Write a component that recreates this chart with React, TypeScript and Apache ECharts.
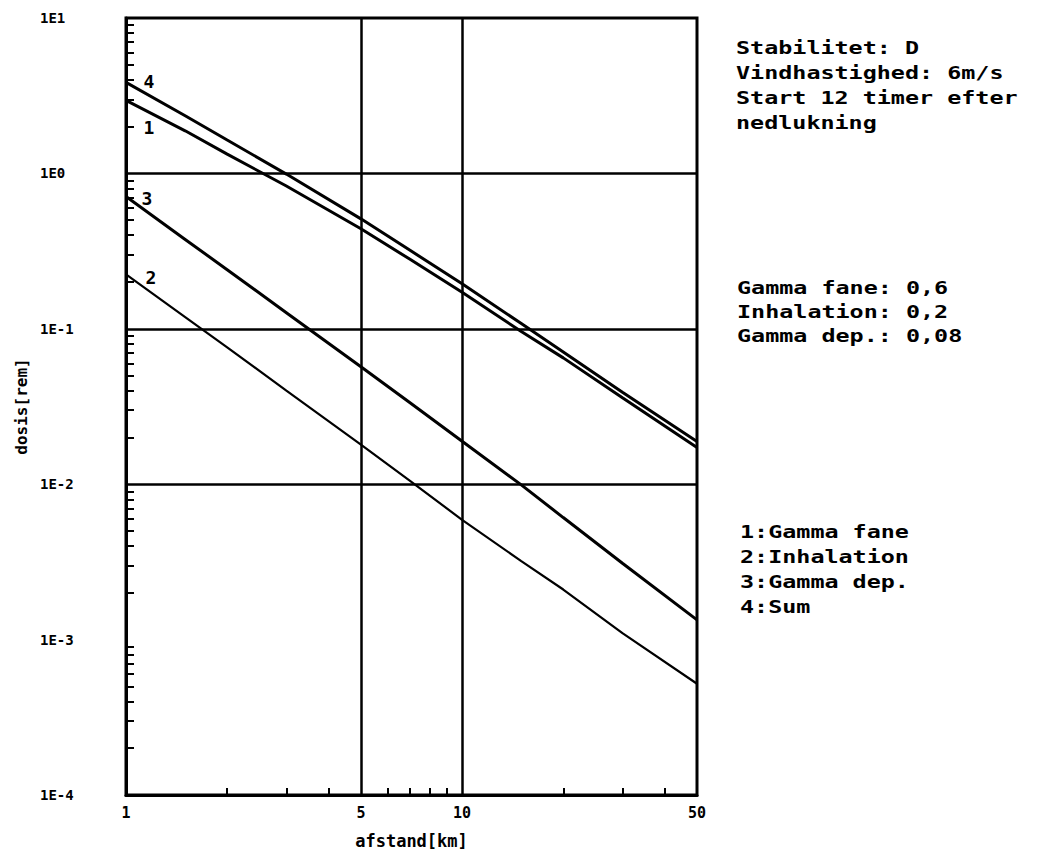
import React, { useEffect, useRef } from 'react';
import * as echarts from 'echarts';

// Distance from the source (km) and the dose of each contribution (rem)
const DISTANCE_KM = [1, 1.5, 2, 3, 5, 7, 10, 15, 20, 30, 50];
const GAMMA_FANE = [2.95, 1.88, 1.33, 0.83, 0.44, 0.28, 0.172, 0.096, 0.065, 0.036, 0.0172];
const INHALATION = [0.224, 0.119, 0.076, 0.04, 0.018, 0.0105, 0.0059, 0.0032, 0.0021, 0.0011, 0.00052];
const GAMMA_DEP = [0.71, 0.376, 0.24, 0.127, 0.057, 0.0334, 0.0189, 0.0099, 0.0061, 0.0031, 0.00134];
const SUM = [3.85, 2.35, 1.64, 0.99, 0.51, 0.32, 0.195, 0.108, 0.071, 0.039, 0.0188];

// Axis ticks
const X_LABELS = [1, 5, 10, 50];
const X_MINOR = [2, 3, 4, 6, 7, 8, 9, 20, 30, 40];
const X_GRID = [5, 10];
const Y_DECADES = [1e-4, 1e-3, 1e-2, 1e-1, 1, 10];
const Y_GRID = [1e-3, 1e-2, 1e-1, 1];
const MANTISSAS = [2, 3, 4, 5, 6, 7, 8, 9];

// Annotation blocks
const INFO_LINES = ['Stabilitet: D', 'Vindhastighed: 6m/s', 'Start 12 timer efter', 'nedlukning'];
const WEIGHT_LINES = ['Gamma fane: 0,6', 'Inhalation: 0,2', 'Gamma dep.: 0,08'];
const KEY_LINES = ['1:Gamma fane', '2:Inhalation', '3:Gamma dep.', '4:Sum'];

const MONO = '"DejaVu Sans Mono", "Liberation Mono", monospace';

export default function App() {
  const ref = useRef<HTMLDivElement>(null);

  useEffect(() => {
    if (!ref.current) return;
    const chart = echarts.init(ref.current, undefined, { renderer: 'svg' });

    const yMinor: number[] = [];
    Y_DECADES.slice(0, -1).forEach((d) => MANTISSAS.forEach((m) => yMinor.push(+(m * d).toPrecision(3))));

    const makeSeries = (
      name: string,
      values: number[],
      tag: string,
      offset: [number, number],
      width: number,
      extra: any = {}
    ) => ({
      type: 'line',
      name,
      data: DISTANCE_KM.map((d, i) =>
        i === 0
          ? {
              value: [d, values[i]],
              label: {
                show: true,
                formatter: tag,
                position: offset,
                align: 'center',
                verticalAlign: 'middle',
                fontFamily: MONO,
                fontWeight: 'bold',
                fontSize: 18,
                color: '#000',
              },
            }
          : [d, values[i]]
      ),
      symbol: 'circle',
      symbolSize: 0,
      showSymbol: true,
      clip: false,
      silent: true,
      lineStyle: { color: '#000', width },
      itemStyle: { color: '#000' },
      label: { show: false },
      ...extra,
    });

    const textBlock = (lines: string[], x: number, y0: number, step: number) =>
      lines.map((t, i) => ({
        type: 'text',
        x,
        y: y0 + i * step,
        scaleX: 1.3,
        silent: true,
        style: {
          text: t,
          font: `bold 18px ${MONO}`,
          fill: '#000',
          align: 'left',
          verticalAlign: 'middle',
        },
      }));

    chart.setOption({
      animation: false,
      backgroundColor: '#fff',
      grid: {
        left: 126,
        top: 18,
        right: 344,
        bottom: 54,
        show: true,
        borderColor: '#000',
        borderWidth: 3,
        outerBoundsMode: 'none',
      },
      xAxis: {
        type: 'log',
        logBase: 10,
        min: 1,
        max: 50,
        name: 'afstand[km]',
        nameLocation: 'middle',
        nameGap: 37,
        nameTextStyle: { fontFamily: MONO, fontWeight: 'bold', fontSize: 17, color: '#000' },
        axisLine: { show: true, lineStyle: { color: '#000', width: 3 } },
        axisTick: {
          show: true,
          inside: true,
          length: 7,
          customValues: X_MINOR,
          lineStyle: { color: '#000', width: 2 },
        },
        axisLabel: {
          customValues: X_LABELS,
          margin: 10,
          fontFamily: MONO,
          fontWeight: 'bold',
          fontSize: 15,
          color: '#000',
          formatter: (v: number) => String(Math.round(v)),
        },
        splitLine: { show: false },
        minorTick: { show: false },
      },
      yAxis: {
        type: 'log',
        logBase: 10,
        min: 1e-4,
        max: 10,
        name: 'dosis[rem]',
        nameLocation: 'middle',
        nameRotate: 90,
        nameGap: 97,
        nameTextStyle: { fontFamily: MONO, fontWeight: 'bold', fontSize: 16, color: '#000' },
        axisLine: { show: true, lineStyle: { color: '#000', width: 3 } },
        axisTick: {
          show: true,
          inside: true,
          length: 8,
          customValues: yMinor,
          lineStyle: { color: '#000', width: 2 },
        },
        axisLabel: {
          customValues: Y_DECADES,
          align: 'left',
          margin: 86,
          fontFamily: MONO,
          fontWeight: 'bold',
          fontSize: 14,
          color: '#000',
          formatter: (v: number) => '1E' + Math.round(Math.log10(v)),
        },
        splitLine: { show: false },
        minorTick: { show: false },
      },
      series: [
        makeSeries('Gamma fane', GAMMA_FANE, '1', [23, 27], 3, {
          markLine: {
            silent: true,
            symbol: 'none',
            label: { show: false },
            lineStyle: { color: '#000', width: 2.5, type: 'solid' },
            emphasis: { disabled: true },
            data: [...X_GRID.map((v) => ({ xAxis: v })), ...Y_GRID.map((v) => ({ yAxis: v }))],
          },
        }),
        makeSeries('Inhalation', INHALATION, '2', [25, 3], 2.2),
        makeSeries('Gamma dep.', GAMMA_DEP, '3', [21, 2], 3),
        makeSeries('Sum', SUM, '4', [23, -1], 3),
      ],
      graphic: [
        ...textBlock(INFO_LINES, 736, 48, 25),
        ...textBlock(WEIGHT_LINES, 737, 288, 24),
        ...textBlock(KEY_LINES, 740, 532, 25),
      ],
    });

    return () => chart.dispose();
  }, []);

  return (
    <div
      ref={ref}
      style={{ position: 'fixed', left: 0, top: 0, width: 1041, height: 849 }}
    />
  );
}
